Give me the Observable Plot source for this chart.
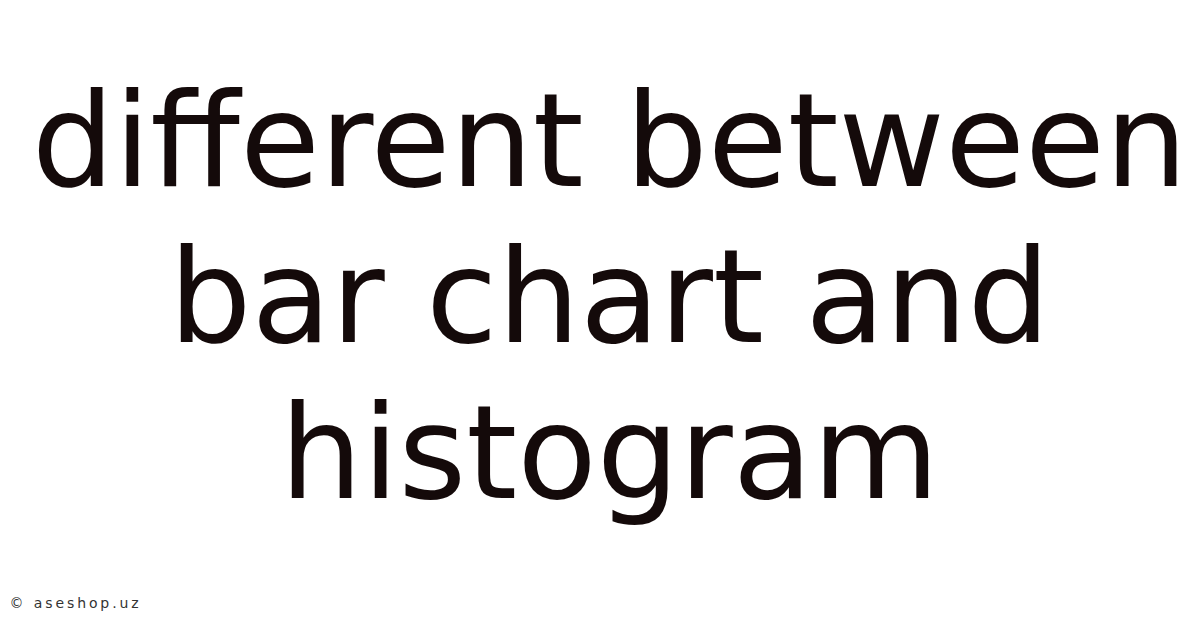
<!DOCTYPE html>
<html>
<head>
<meta charset="utf-8">
<script src="https://cdn.jsdelivr.net/npm/d3@7"></script>
<script src="https://cdn.jsdelivr.net/npm/@observablehq/plot@0.6"></script>
<style>
  html, body { margin: 0; padding: 0; background: #ffffff; }
  #chart svg { display: block; }
</style>
</head>
<body>
<div id="chart"></div>
<script>
const titleLines = ["different between", "bar chart and", "histogram"];
const footerLabels = ["© aseshop.uz"];

const rows = titleLines.map((text, i) => ({ text, line: i }));
const footer = footerLabels.map((text) => ({ text }));

const chart = Plot.plot({
  width: 1200,
  height: 628,
  margin: 0,
  style: { background: "#ffffff", fontFamily: "'DejaVu Sans', sans-serif" },
  x: { axis: null },
  y: { axis: null, type: "linear", domain: [0, 2], range: [143.4, 455.4] },
  marks: [
    Plot.text(rows, {
      x: () => 0,
      y: "line",
      text: "text",
      frameAnchor: "middle",
      textAnchor: "middle",
      lineAnchor: "middle",
      dx: 9,
      fontSize: 130,
      fill: "#140a0a",
      fontFamily: "'DejaVu Sans', sans-serif"
    }),
    Plot.text(footer, {
      frameAnchor: "bottom-left",
      text: "text",
      textAnchor: "start",
      lineAnchor: "bottom",
      dx: 9,
      dy: -21,
      fontSize: 14,
      fill: "#333333",
      fontFamily: "'DejaVu Sans', sans-serif"
    })
  ]
});
d3.select(chart).selectAll("text")
  .filter(function () { return this.textContent.includes("aseshop"); })
  .style("letter-spacing", "2.9px");
document.getElementById("chart").appendChild(chart);
</script>
</body>
</html>
